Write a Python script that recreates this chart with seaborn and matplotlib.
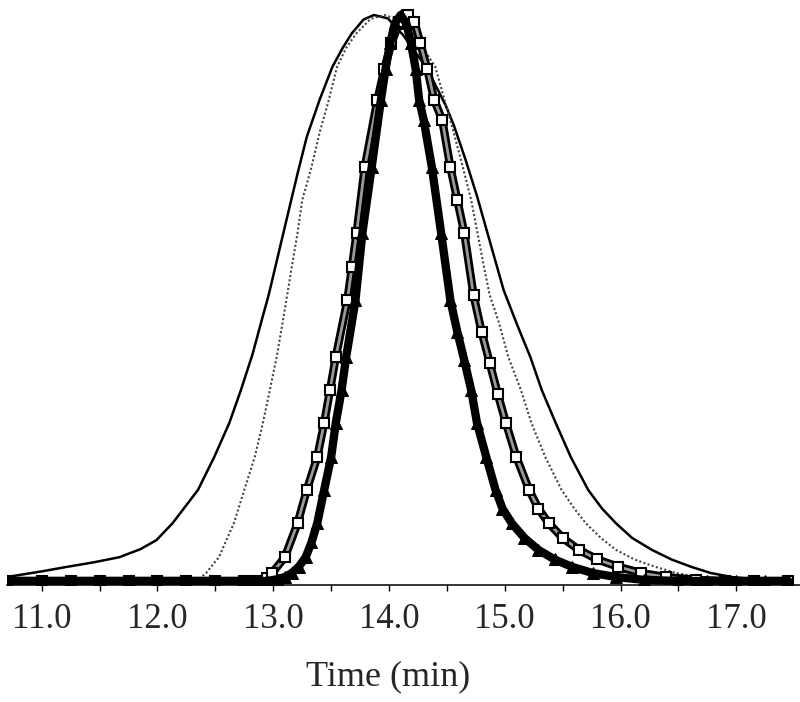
import numpy as np
import pandas as pd
import matplotlib
matplotlib.use("Agg")
import matplotlib.pyplot as plt
import seaborn as sns

# GPC traces (normalised detector response vs elution time)
t_solid = [10.70, 11.00, 11.22, 11.45, 11.67, 11.85, 11.99, 12.13, 12.35, 12.49,
           12.62, 12.72, 12.82, 12.91, 12.96, 13.01, 13.07, 13.14, 13.21, 13.29,
           13.40, 13.51, 13.60, 13.68, 13.78, 13.87, 13.99, 14.12, 14.33, 14.49,
           14.56, 14.66, 14.76, 14.85, 14.99, 15.10, 15.22, 15.32, 15.44, 15.57,
           15.72, 15.84, 15.96, 16.10, 16.27, 16.44, 16.61, 16.78, 16.96, 17.20,
           17.45]
v_solid = [0.007, 0.017, 0.025, 0.033, 0.042, 0.056, 0.072, 0.102, 0.161, 0.219,
           0.279, 0.337, 0.400, 0.468, 0.505, 0.548, 0.600, 0.660, 0.720, 0.785,
           0.850, 0.908, 0.942, 0.968, 0.992, 1.000, 0.994, 0.965, 0.905, 0.840,
           0.805, 0.745, 0.680, 0.615, 0.514, 0.456, 0.396, 0.337, 0.279, 0.219,
           0.161, 0.128, 0.102, 0.076, 0.055, 0.038, 0.025, 0.014, 0.007, 0.002,
           0.000]

t_dot = [10.70, 12.30, 12.36, 12.42, 12.53, 12.66, 12.75, 12.84, 12.91, 12.97,
         13.03, 13.08, 13.12, 13.16, 13.21, 13.25, 13.33, 13.40, 13.48, 13.55,
         13.63, 13.72, 13.84, 13.96, 14.08, 14.20, 14.30, 14.40, 14.53, 14.62,
         14.71, 14.82, 14.87, 14.95, 15.03, 15.14, 15.23, 15.35, 15.49, 15.60,
         15.70, 15.83, 15.96, 16.12, 16.30, 16.48, 16.67, 17.00]
v_dot = [0.000, 0.000, 0.004, 0.014, 0.042, 0.102, 0.161, 0.219, 0.279, 0.337,
         0.396, 0.456, 0.505, 0.555, 0.615, 0.673, 0.731, 0.792, 0.850, 0.908,
         0.942, 0.968, 0.993, 1.000, 0.992, 0.968, 0.940, 0.908, 0.814, 0.745,
         0.673, 0.555, 0.505, 0.456, 0.396, 0.337, 0.279, 0.219, 0.161, 0.128,
         0.102, 0.076, 0.055, 0.038, 0.025, 0.014, 0.007, 0.000]

t_sq = [10.70, 11.00, 11.25, 11.50, 11.75, 12.00, 12.25, 12.50, 12.75, 12.85,
        12.95, 12.99, 13.10, 13.21, 13.29, 13.38, 13.44, 13.49, 13.54, 13.64,
        13.68, 13.72, 13.79, 13.90, 13.96, 14.02, 14.09, 14.16, 14.22, 14.27,
        14.33, 14.39, 14.46, 14.53, 14.59, 14.65, 14.73, 14.80, 14.87, 14.94,
        15.01, 15.10, 15.21, 15.29, 15.38, 15.50, 15.64, 15.80, 15.98, 16.18,
        16.39, 16.65, 16.90, 17.15, 17.45]
v_sq = [0.000, 0.000, 0.000, 0.000, 0.000, 0.000, 0.000, 0.000, 0.000, 0.000,
        0.006, 0.014, 0.042, 0.102, 0.161, 0.219, 0.279, 0.337, 0.396, 0.496,
        0.555, 0.615, 0.731, 0.850, 0.905, 0.950, 0.988, 1.000, 0.988, 0.950,
        0.905, 0.850, 0.814, 0.731, 0.673, 0.615, 0.505, 0.440, 0.385, 0.330,
        0.279, 0.219, 0.161, 0.128, 0.102, 0.076, 0.055, 0.038, 0.025, 0.014,
        0.007, 0.002, 0.000, 0.000, 0.000]

t_tri = [10.70, 11.00, 11.25, 11.50, 11.75, 12.00, 12.25, 12.50, 12.75, 12.95,
         13.03, 13.10, 13.16, 13.22, 13.28, 13.33, 13.38, 13.44, 13.50, 13.54,
         13.59, 13.63, 13.71, 13.77, 13.85, 13.93, 13.97, 14.01, 14.05, 14.10,
         14.15, 14.19, 14.23, 14.26, 14.30, 14.37, 14.45, 14.53, 14.59, 14.65,
         14.71, 14.76, 14.84, 14.92, 14.98, 15.06, 15.17, 15.29, 15.43, 15.58,
         15.76, 15.96, 16.20, 16.50, 16.75, 17.00, 17.25, 17.45]
v_tri = [0.000, 0.000, 0.000, 0.000, 0.000, 0.000, 0.000, 0.000, 0.000, 0.000,
         0.003, 0.007, 0.014, 0.025, 0.042, 0.068, 0.102, 0.161, 0.219, 0.279,
         0.337, 0.396, 0.496, 0.615, 0.731, 0.850, 0.905, 0.950, 0.985, 1.000,
         0.985, 0.950, 0.905, 0.850, 0.814, 0.731, 0.615, 0.496, 0.440, 0.390,
         0.337, 0.279, 0.219, 0.161, 0.128, 0.102, 0.076, 0.055, 0.038, 0.025,
         0.014, 0.007, 0.002, 0.000, 0.000, 0.000, 0.000, 0.000]

major_ticks = [11.0, 12.0, 13.0, 14.0, 15.0, 16.0, 17.0]
minor_ticks = [11.5, 12.5, 13.5, 14.5, 15.5, 16.5]

sns.set_style("white")
plt.rcParams['font.family'] = ['Liberation Serif', 'DejaVu Serif']

fig = plt.figure(figsize=(8, 7.02), dpi=100)
ax = fig.add_axes([7 / 800, 117 / 702, 793 / 800, 585 / 702])

# thin solid trace
sns.lineplot(x=t_solid, y=v_solid, ax=ax, color='black', lw=1.8,
             sort=False, estimator=None)
# dotted trace
sns.lineplot(x=t_dot, y=v_dot, ax=ax, color='#444444', lw=1.5,
             linestyle=(0, (1, 1.1)), sort=False, estimator=None)
# open squares trace
sns.lineplot(x=t_sq, y=v_sq, ax=ax, color='black', lw=6.0,
             sort=False, estimator=None)
sns.lineplot(x=t_sq, y=v_sq, ax=ax, color='#9a9a9a', lw=2.0,
             sort=False, estimator=None)
sns.lineplot(x=t_sq, y=v_sq, ax=ax, color='black', lw=0, marker='s',
             markersize=6.5, markerfacecolor='white', markeredgecolor='black',
             markeredgewidth=1.5, sort=False, estimator=None)
# filled triangles trace
sns.lineplot(x=t_tri, y=v_tri, ax=ax, color='black', lw=6.0, marker='^',
             markersize=8, markerfacecolor='black', markeredgecolor='black',
             sort=False, estimator=None)

ax.set_xlim(10.70, 17.55)
ax.set_ylim(-0.0071, 1.0265)

for s in ['left', 'top', 'right']:
    ax.spines[s].set_visible(False)
ax.spines['bottom'].set_linewidth(1.1)
ax.spines['bottom'].set_color('black')

ax.set_xticks(major_ticks)
ax.set_xticks(minor_ticks, minor=True)
ax.set_xticklabels([f'{x:.1f}' for x in major_ticks])
ax.set_yticks([])
ax.tick_params(axis='x', which='both', direction='out', length=4, width=1.0,
               color='black', bottom=True)
ax.tick_params(axis='x', which='major', labelsize=25, pad=9)

ax.set_xlabel('Time (min)', fontsize=26)
ax.xaxis.set_label_coords((388 - 7) / 793, -0.129)
ax.set_ylabel('')

fig.savefig('out.png', dpi=100)
